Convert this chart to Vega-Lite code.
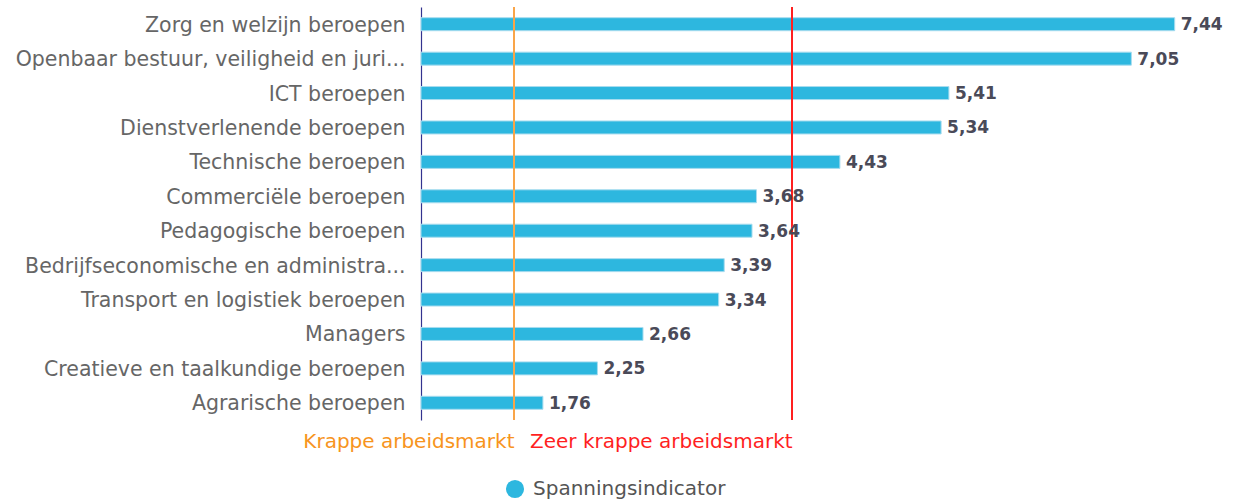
{
  "$schema": "https://vega.github.io/schema/vega-lite/v6.json",
  "width": 816,
  "height": 413,
  "autosize": "none",
  "padding": {"left": 421, "top": 7, "right": 18, "bottom": 83},
  "background": "white",
  "config": {
    "view": {"stroke": null},
    "font": "DejaVu Sans"
  },
  "data": {
    "values": [
      {"beroep": "Zorg en welzijn beroepen", "waarde": 7.44, "label": "7,44"},
      {"beroep": "Openbaar bestuur, veiligheid en juri...", "waarde": 7.05, "label": "7,05"},
      {"beroep": "ICT beroepen", "waarde": 5.41, "label": "5,41"},
      {"beroep": "Dienstverlenende beroepen", "waarde": 5.34, "label": "5,34"},
      {"beroep": "Technische beroepen", "waarde": 4.43, "label": "4,43"},
      {"beroep": "Commerciële beroepen", "waarde": 3.68, "label": "3,68"},
      {"beroep": "Pedagogische beroepen", "waarde": 3.64, "label": "3,64"},
      {"beroep": "Bedrijfseconomische en administra...", "waarde": 3.39, "label": "3,39"},
      {"beroep": "Transport en logistiek beroepen", "waarde": 3.34, "label": "3,34"},
      {"beroep": "Managers", "waarde": 2.66, "label": "2,66"},
      {"beroep": "Creatieve en taalkundige beroepen", "waarde": 2.25, "label": "2,25"},
      {"beroep": "Agrarische beroepen", "waarde": 1.76, "label": "1,76"}
    ]
  },
  "encoding": {
    "y": {
      "field": "beroep",
      "type": "nominal",
      "sort": null,
      "axis": {
        "title": null,
        "ticks": false,
        "domainColor": "#33338f",
        "domainWidth": 1.2,
        "labelFontSize": 20.5,
        "labelColor": "#666666",
        "labelPadding": 16,
        "labelOffset": 1.5,
        "labelLimit": 0
      }
    }
  },
  "layer": [
    {
      "mark": {"type": "bar", "size": 13, "stroke": "#a8dcef", "strokeWidth": 1},
      "encoding": {
        "x": {
          "field": "waarde",
          "type": "quantitative",
          "scale": {"domain": [0.664, 8], "zero": false, "nice": false},
          "axis": {
            "title": null,
            "values": [1.5, 4],
            "labelExpr": "datum.value == 1.5 ? 'Krappe arbeidsmarkt' : 'Zeer krappe arbeidsmarkt'",
            "labelAlign": "right",
            "labelFontSize": 20,
            "labelLimit": 0,
            "labelColor": {"condition": {"test": "datum.value == 1.5", "value": "#f7941d"}, "value": "#ff1f1f"},
            "labelPadding": 11,
            "labelFlush": false,
            "labelOverlap": false,
            "ticks": false,
            "domain": false,
            "grid": false
          }
        },
        "x2": {"datum": 0.664},
        "color": {
          "datum": "Spanningsindicator",
          "type": "nominal",
          "scale": {"range": ["#2db7df"]},
          "legend": {
            "title": null,
            "orient": "none",
            "legendX": 84,
            "legendY": 472,
            "padding": 0,
            "symbolType": "circle",
            "symbolSize": 330,
            "symbolStrokeWidth": 0,
            "labelFontSize": 20,
            "labelLimit": 0,
            "labelColor": "#555555",
            "labelOffset": 8
          }
        }
      }
    },
    {
      "mark": {"type": "rule", "color": "#f9a64a", "strokeWidth": 1.2},
      "encoding": {"x": {"datum": 1.5, "type": "quantitative"}, "y": null}
    },
    {
      "mark": {"type": "rule", "color": "#ff2020", "strokeWidth": 1.2},
      "encoding": {"x": {"datum": 4, "type": "quantitative"}, "y": null}
    },
    {
      "mark": {"type": "text", "align": "left", "dx": 6, "dy": 1, "fontSize": 17, "fontWeight": "bold", "color": "#4a4a58"},
      "encoding": {
        "x": {"field": "waarde", "type": "quantitative"},
        "text": {"field": "label"}
      }
    }
  ]
}
